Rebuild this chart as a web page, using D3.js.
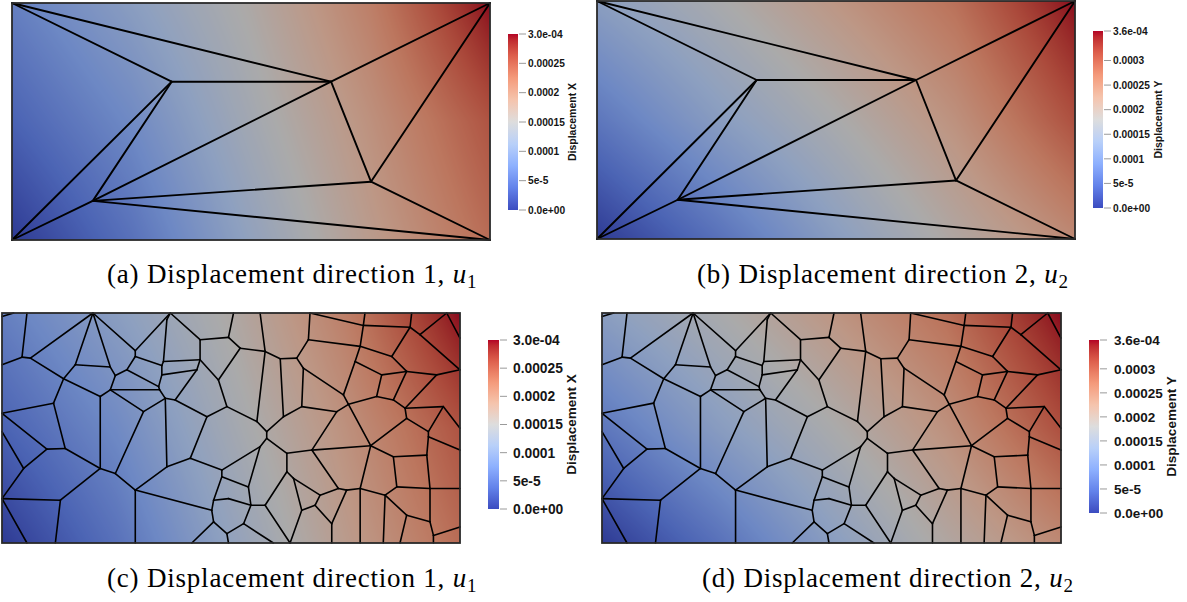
<!DOCTYPE html>
<html><head><meta charset="utf-8">
<script src="https://cdn.jsdelivr.net/npm/d3@7"></script>
<style>
html,body{margin:0;padding:0;background:#fff;}
svg{display:block;}
</style></head>
<body>
<svg id="fig" width="1187" height="602"></svg>
<script>
// ---- Coarse triangular mesh, domain [0,2] x [0,1] ----
const coarseNodeX = [0, 2, 2, 0, 0.668, 1.335, 1.502, 0.338];
const coarseNodeY = [0, 0, 1, 1, 0.668, 0.668, 0.246, 0.165];
const coarseEdges = [[3,4],[3,5],[4,5],[5,2],[2,6],[5,6],[6,1],[7,6],[7,1],[7,5],[7,4],[0,4],[0,7]];

// ---- Polygonal mesh vertices, domain [0,2] x [0,1] ----
const polyNodeX = [0,0.0873,0.109,0.124,0.397,0.269,0.320,0.473,0.495,0.429,
  0.473,0.545,0.582,0.582,0.735,0.698,0.705,0.720,0.684,0.688,
  0,0.713,0.698,0.865,0.851,0.865,0.989,1.011,1.040,1.149,
  1.127,1.215,1.287,1.338,1.345,1.564,1.578,1.585,1.782,1.789,
  1.825,1.942,2,2,1.702,1.767,1.542,1.658,1.898,1.636,
  1.709,1.760,1.927,2,1.862,1.862,2,1.855,1.767,1.610,
  1.491,1.513,1.316,1.309,1.462,1.353,1.709,1.724,1.869,2,
  1.564,1.673,1.564,1.665,1.767,1.738,1.869,1.884,1.884,2,
  1.505,1.440,1.440,1.469,1.389,1.367,1.309,1.244,1.244,1.273,
  1.258,1.149,1.185,1.156,1.156,1.113,1.229,0.945,0.982,0.895,
  0.822,0.720,0.960,1.127,1.076,0.960,1.087,0.924,0.916,0.989,
  1.055,0.982,0.924,0.989,0.582,0.582,0.829,0,0.495,0.618,
  0.429,0.255,0.233,0,0.109,0.0945,0.196,0.276,0.225,0,
  0,0.756,0,0.051];
const polyNodeY = [0.775,0.808,1,0.804,1,0.714,0.775,0.765,0.728,0.637,
  0.666,0.753,0.836,0.811,1,0.772,0.789,0.971,0.680,0.666,
  0,0.629,0.731,0.797,0.753,0.884,0.894,1,0.847,0.833,
  1,0.801,0.804,0.884,1,0.855,0.946,1,0.938,1,
  0.906,1,0.891,0.753,0.811,0.746,0.789,0.731,0.731,0.637,
  0.622,0.586,0.593,0.499,0.484,0.462,0.404,0.382,0.542,0.423,
  0.644,0.603,0.760,0.593,0.571,0.404,0.375,0.244,0.237,0.237,
  0.237,0.208,0,0,0.121,0,0.092,0,0.033,0.070,
  0.230,0.084,0,0.237,0.208,0.164,0.142,0.390,0.310,0.281,
  0,0.164,0,0.455,0.484,0.528,0.549,0.709,0.593,0.549,
  0.368,0.331,0.317,0.419,0.244,0.288,0.164,0.186,0.142,0.193,
  0.084,0.041,0.092,0,0.230,0,0,0,0.302,0.571,
  0.324,0.186,0,0.193,0,0.324,0.408,0.411,0.608,0.564,
  0.484,0.622,0.985,1];
const polyEdges = [[2,1],[0,1],[1,3],[3,4],[3,5],[5,9],[4,6],[6,7],[6,5],[4,7],[4,12],[7,8],[8,10],[10,9],
  [8,11],[11,13],[12,13],[12,14],[13,15],[11,18],[10,19],[18,19],[19,21],[15,16],[16,17],[17,14],[15,22],
  [22,18],[16,23],[22,24],[23,24],[25,23],[14,25],[25,26],[26,27],[26,28],[28,29],[30,29],[29,31],[31,32],
  [32,33],[33,34],[33,35],[34,36],[37,36],[36,35],[36,38],[39,38],[38,40],[40,41],[41,42],[40,43],[38,44],
  [35,44],[44,45],[35,46],[46,47],[47,45],[45,48],[48,43],[45,50],[47,49],[49,50],[50,51],[48,51],[51,58],
  [58,54],[51,52],[52,54],[52,53],[54,55],[55,56],[55,57],[58,59],[57,66],[59,66],[66,67],[57,68],[67,68],
  [68,69],[46,60],[60,61],[61,49],[61,59],[62,60],[32,62],[62,63],[63,64],[64,61],[64,65],[65,59],[59,70],
  [70,71],[70,72],[71,73],[71,74],[74,75],[74,76],[71,67],[68,76],[76,78],[78,77],[78,79],[80,70],[80,81],
  [81,82],[83,84],[83,80],[65,83],[84,85],[85,86],[85,81],[87,65],[87,88],[88,89],[89,84],[89,86],[86,90],
  [88,91],[91,90],[110,92],[93,87],[94,93],[95,94],[94,96],[96,63],[96,31],[29,95],[95,98],[28,97],[97,98],
  [98,99],[99,131],[131,24],[131,21],[23,97],[99,100],[100,101],[100,102],[102,103],[103,93],[103,104],
  [102,105],[105,104],[104,106],[106,91],[105,107],[107,108],[107,109],[109,106],[106,110],[110,111],
  [111,112],[112,108],[111,113],[108,114],[112,116],[114,115],[114,101],[114,118],[118,119],[119,21],
  [10,119],[118,120],[9,120],[120,121],[121,122],[121,123],[123,124],[123,125],[125,126],[126,127],
  [127,120],[127,128],[128,5],[128,129],[129,126],[130,125],[21,101],[132,133]];

// ---- Displacement fields, nodal samples (units of 1e-4) ----
const fieldColsX = [0, 0.5, 1, 1.5, 2];
const fieldRowsY = [1, 0.5, 0];
const u1Top = [0.66, 1.08, 1.56, 2.16, 3.00];
const u1Mid = [0.36, 0.78, 1.38, 1.95, 2.55];
const u1Bot = [0.00, 0.51, 1.17, 1.80, 2.34];
const u2Top = [1.30, 1.76, 2.27, 2.77, 3.60];
const u2Mid = [0.68, 1.26, 1.78, 2.34, 3.10];
const u2Bot = [0.00, 0.60, 1.28, 1.91, 2.45];

// ---- Colour bar ticks ----
const ticksXValues = [3.0e-4, 2.5e-4, 2.0e-4, 1.5e-4, 1.0e-4, 5e-5, 0];
const ticksXLabels = ["3.0e-04", "0.00025", "0.0002", "0.00015", "0.0001", "5e-5", "0.0e+00"];
const ticksYValues = [3.6e-4, 3.0e-4, 2.5e-4, 2.0e-4, 1.5e-4, 1.0e-4, 5e-5, 0];
const ticksYLabels = ["3.6e-04", "0.0003", "0.00025", "0.0002", "0.00015", "0.0001", "5e-5", "0.0e+00"];

const captionLabels = ["(a)", "(b)", "(c)", "(d)"];
const captionTexts = ["Displacement direction 1, ", "Displacement direction 2, ",
                      "Displacement direction 1, ", "Displacement direction 2, "];
const captionSubs = ["1", "2", "1", "2"];

// Cool-to-warm diverging colour map
const coolWarm = d3.scaleLinear()
  .domain(d3.range(9).map(i => i / 8))
  .range(["rgb(59,76,192)", "rgb(98,130,234)", "rgb(141,176,254)", "rgb(184,208,249)",
          "rgb(221,221,221)", "rgb(245,196,173)", "rgb(244,154,123)", "rgb(222,96,77)",
          "rgb(180,4,38)"])
  .interpolate(d3.interpolateLab)
  .clamp(true);

function makeField(top, mid, bot) {
  const rows = [top, mid, bot].map(r => d3.scaleLinear().domain(fieldColsX).range(r).clamp(true));
  return (X, Y) => d3.scaleLinear().domain(fieldRowsY).range(rows.map(r => r(X))).clamp(true)(Y) * 1e-4;
}
const fieldU1 = makeField(u1Top, u1Mid, u1Bot);
const fieldU2 = makeField(u2Top, u2Mid, u2Bot);

const coarseMesh = { nx: coarseNodeX, ny: coarseNodeY, edges: coarseEdges, width: 1.9 };
const polyMesh = { nx: polyNodeX, ny: polyNodeY, edges: polyEdges, width: 1.6 };

const panels = [
  { plot: [12, 3, 490, 240], mesh: coarseMesh, field: fieldU1, max: 3.0e-4, ticksV: ticksXValues, ticksL: ticksXLabels,
    bar: [508, 34, 10, 210], labelX: 528, fs: 10.2, title: "Displacement X", titleX: 572, titleFs: 10.5,
    cap: 0, capX: 107, capY: 283 },
  { plot: [597, 1, 1075, 239], mesh: coarseMesh, field: fieldU2, max: 3.6e-4, ticksV: ticksYValues, ticksL: ticksYLabels,
    bar: [1093, 31, 10, 208], labelX: 1113, fs: 10.2, title: "Displacement Y", titleX: 1158, titleFs: 10.5,
    cap: 1, capX: 697, capY: 283 },
  { plot: [2, 313, 460, 543], mesh: polyMesh, field: fieldU1, max: 3.0e-4, ticksV: ticksXValues, ticksL: ticksXLabels,
    bar: [488, 340, 11, 509], labelX: 513, fs: 13.8, title: "Displacement X", titleX: 571, titleFs: 13.5,
    cap: 2, capX: 107, capY: 587 },
  { plot: [602, 313, 1061, 543], mesh: polyMesh, field: fieldU2, max: 3.6e-4, ticksV: ticksYValues, ticksL: ticksYLabels,
    bar: [1089, 340, 10, 513], labelX: 1114, fs: 13.5, title: "Displacement Y", titleX: 1171, titleFs: 13.5,
    cap: 3, capX: 702, capY: 587 }
];

const svg = d3.select("#fig");
const defs = svg.append("defs");
const shade = 0.77;

function fieldImage(p, xs, ys) {
  const [x0, y0, x1, y1] = p.plot;
  const w = x1 - x0, h = y1 - y0;
  const cv = document.createElement("canvas");
  cv.width = w; cv.height = h;
  const ctx = cv.getContext("2d");
  const img = ctx.createImageData(w, h);
  for (let j = 0; j < h; j++) {
    const Y = ys.invert(y0 + j + 0.5);
    for (let i = 0; i < w; i++) {
      const X = xs.invert(x0 + i + 0.5);
      const c = d3.rgb(coolWarm(p.field(X, Y) / p.max));
      const k = 4 * (j * w + i);
      img.data[k] = c.r * shade; img.data[k + 1] = c.g * shade; img.data[k + 2] = c.b * shade; img.data[k + 3] = 255;
    }
  }
  ctx.putImageData(img, 0, 0);
  return cv.toDataURL();
}

panels.forEach((p, pi) => {
  const [x0, y0, x1, y1] = p.plot;
  const xs = d3.scaleLinear().domain([0, 2]).range([x0, x1]);
  const ys = d3.scaleLinear().domain([0, 1]).range([y1, y0]);
  const g = svg.append("g");

  g.append("image").attr("x", x0).attr("y", y0).attr("width", x1 - x0).attr("height", y1 - y0)
    .attr("preserveAspectRatio", "none").attr("href", fieldImage(p, xs, ys));

  const m = p.mesh;
  g.append("g").selectAll("line").data(m.edges).join("line")
    .attr("x1", e => xs(m.nx[e[0]])).attr("y1", e => ys(m.ny[e[0]]))
    .attr("x2", e => xs(m.nx[e[1]])).attr("y2", e => ys(m.ny[e[1]]))
    .attr("stroke", "#000").attr("stroke-width", m.width).attr("stroke-linecap", "round");

  g.append("rect").attr("x", x0).attr("y", y0).attr("width", x1 - x0).attr("height", y1 - y0)
    .attr("fill", "none").attr("stroke", "#2a2a2a").attr("stroke-width", 1.8);

  // colour bar
  const [bx, by0, bw, by1] = p.bar;
  const gid = "grad" + pi;
  const grad = defs.append("linearGradient").attr("id", gid)
    .attr("x1", 0).attr("y1", 1).attr("x2", 0).attr("y2", 0);
  d3.range(33).forEach(i => grad.append("stop").attr("offset", i / 32).attr("stop-color", coolWarm(i / 32)));
  g.append("rect").attr("x", bx).attr("y", by0).attr("width", bw).attr("height", by1 - by0)
    .attr("fill", `url(#${gid})`);
  const vs = d3.scaleLinear().domain([0, p.max]).range([by1, by0]);
  g.append("g").selectAll("line").data(p.ticksV).join("line")
    .attr("x1", bx + bw + 1).attr("x2", bx + bw + 8)
    .attr("y1", d => vs(d)).attr("y2", d => vs(d))
    .attr("stroke", "#9a9a9a").attr("stroke-width", 1);
  g.append("g").selectAll("text").data(p.ticksV).join("text")
    .attr("x", p.labelX).attr("y", d => vs(d)).attr("dy", "0.36em")
    .attr("font-family", "'Liberation Sans', Arial, sans-serif").attr("font-weight", "bold")
    .attr("font-size", p.fs).attr("fill", "#151515")
    .text((d, i) => p.ticksL[i]);
  g.append("text")
    .attr("transform", `translate(${p.titleX},${(by0 + by1) / 2}) rotate(-90)`)
    .attr("text-anchor", "middle").attr("dy", "0.36em")
    .attr("font-family", "'Liberation Sans', Arial, sans-serif").attr("font-weight", "bold")
    .attr("font-size", p.titleFs).attr("fill", "#151515")
    .text(p.title);

  // caption
  const cap = svg.append("text").attr("x", p.capX).attr("y", p.capY)
    .attr("font-family", "'Liberation Serif', 'Times New Roman', serif").attr("font-size", 27)
    .attr("letter-spacing", 0.8).attr("fill", "#000");
  cap.append("tspan").text(captionLabels[p.cap] + " " + captionTexts[p.cap]);
  cap.append("tspan").attr("font-style", "italic").text("u");
  cap.append("tspan").attr("font-size", 19).attr("dy", 5).text(captionSubs[p.cap]);
});
</script>
</body></html>
